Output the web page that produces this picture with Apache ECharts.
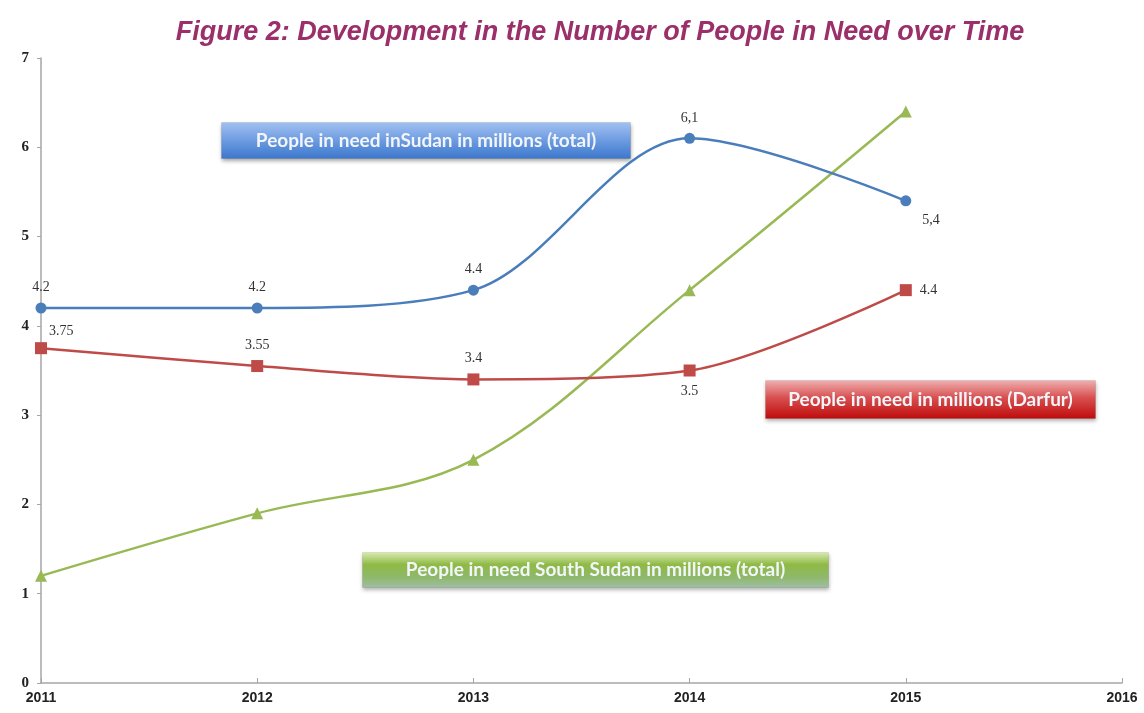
<!DOCTYPE html>
<html>
<head>
<meta charset="utf-8">
<script src="https://cdn.jsdelivr.net/npm/echarts@6/dist/echarts.min.js"></script>
<style>
  html, body { margin: 0; padding: 0; background: #fff; }
  #chart { width: 1144px; height: 713px; }
</style>
</head>
<body>
<div id="chart"></div>
<script>
// Years on the horizontal axis
const years = [2011, 2012, 2013, 2014, 2015];

// People in need, millions
const sudanTotal = [4.2, 4.2, 4.4, 6.1, 5.4];
const darfur = [3.75, 3.55, 3.4, 3.5, 4.4];
const southSudanTotal = [1.2, 1.9, 2.5, 4.4, 6.4];

// Decimal separator used in each Sudan label
const sudanDecimalSep = ['.', '.', '.', ',', ','];

// Series names shown in the boxed captions
const seriesNames = [
  'People in need inSudan in millions (total)',
  'People in need in millions (Darfur)',
  'People in need South Sudan in millions (total)'
];

const titleText = 'Figure 2: Development in the Number of People in Need over Time';

// Label placement per point (styling, kept apart from the values)
const sudanLabelPos = ['top', 'top', 'top', 'top', [22, 18]];
const darfurLabelPos = [[14, -18], 'top', 'top', 'bottom', 'right'];

function pairs(values) {
  return values.map((v, i) => [years[i], v]);
}

function labelled(values, positions, fmt) {
  return values.map((v, i) => ({
    value: [years[i], v],
    label: { show: true, position: positions[i], formatter: fmt ? fmt(v, i) : String(v) }
  }));
}

const labelStyle = {
  fontFamily: '"Liberation Serif", "DejaVu Serif", serif',
  fontSize: 14,
  color: '#333',
  distance: 8
};

const chart = echarts.init(document.getElementById('chart'));

function captionBox(left, top, width, height, colors, text, shadowColor) {
  return {
    type: 'group',
    left: left,
    top: top,
    children: [
      {
        type: 'rect',
        shape: { x: 0, y: 0, width: width, height: height },
        style: {
          fill: new echarts.graphic.LinearGradient(0, 0, 0, 1, colors),
          stroke: 'rgba(0,0,0,0.08)',
          lineWidth: 1,
          shadowBlur: 4,
          shadowOffsetY: 2,
          shadowColor: shadowColor
        }
      },
      {
        type: 'text',
        x: width / 2,
        y: height / 2,
        style: {
          text: text,
          fill: '#f2f5fa',
          font: 'bold 19px Lato, "Open Sans", sans-serif',
          align: 'center',
          verticalAlign: 'middle'
        }
      }
    ]
  };
}

chart.setOption({
  backgroundColor: '#fff',
  animation: false,
  title: {
    text: titleText,
    left: 595,
    textAlign: 'center',
    top: 14,
    textStyle: {
      color: '#9b2f6a',
      fontSize: 27,
      fontWeight: 'bold',
      fontStyle: 'italic',
      fontFamily: '"Liberation Sans", Arial, sans-serif'
    }
  },
  grid: { left: 41, right: 22, top: 58, bottom: 30, containLabel: false },
  xAxis: {
    type: 'value',
    min: 2011,
    max: 2016,
    interval: 1,
    axisLine: { show: true, lineStyle: { color: '#a6a6a6', width: 1.5 } },
    axisTick: { show: true, inside: true, length: 5, lineStyle: { color: '#a6a6a6' } },
    splitLine: { show: false },
    axisLabel: {
      color: '#222',
      fontWeight: 'bold',
      fontSize: 14,
      fontFamily: '"Liberation Sans Narrow", "Liberation Sans", Arial, sans-serif',
      margin: 8,
      formatter: v => String(v)
    }
  },
  yAxis: {
    type: 'value',
    min: 0,
    max: 7,
    interval: 1,
    axisLine: { show: true, lineStyle: { color: '#a6a6a6', width: 1.5 } },
    axisTick: { show: true, length: 4, lineStyle: { color: '#a6a6a6' } },
    splitLine: { show: false },
    axisLabel: {
      color: '#222',
      fontWeight: 'bold',
      fontSize: 15,
      fontFamily: '"Liberation Serif", "DejaVu Serif", serif',
      margin: 12
    }
  },
  series: [
    {
      name: seriesNames[2],
      type: 'line',
      data: pairs(southSudanTotal),
      smooth: 0.35,
      symbol: 'triangle',
      symbolSize: 12,
      lineStyle: { color: '#98b954', width: 2.5 },
      itemStyle: { color: '#98b954' },
      z: 2
    },
    {
      name: seriesNames[1],
      type: 'line',
      data: labelled(darfur, darfurLabelPos),
      smooth: 0.3,
      symbol: 'rect',
      symbolSize: 12,
      lineStyle: { color: '#be4b48', width: 2.5 },
      itemStyle: { color: '#be4b48' },
      label: labelStyle,
      z: 3
    },
    {
      name: seriesNames[0],
      type: 'line',
      data: labelled(sudanTotal, sudanLabelPos,
        (v, i) => v.toFixed(1).replace('.', sudanDecimalSep[i])),
      smooth: 0.32,
      symbol: 'circle',
      symbolSize: 11,
      lineStyle: { color: '#4a7ebb', width: 2.5 },
      itemStyle: { color: '#4a7ebb' },
      label: labelStyle,
      z: 4
    }
  ],
  graphic: [
    captionBox(221, 122, 409, 36,
      [{ offset: 0, color: '#a3c2f2' }, { offset: 0.5, color: '#6d9be0' }, { offset: 1, color: '#3b77cc' }],
      seriesNames[0], 'rgba(0,0,0,0.35)'),
    captionBox(765, 380, 330, 38,
      [{ offset: 0, color: '#f0b2b2' }, { offset: 0.45, color: '#d85050' }, { offset: 1, color: '#bf0a0a' }],
      seriesNames[1], 'rgba(0,0,0,0.3)'),
    captionBox(362, 552, 466, 35,
      [{ offset: 0, color: '#dcebb4' }, { offset: 0.35, color: '#8fba45' }, { offset: 0.7, color: '#8fb86a' }, { offset: 1, color: '#9fbfa6' }],
      seriesNames[2], 'rgba(0,0,0,0.3)')
  ]
});
</script>
</body>
</html>
